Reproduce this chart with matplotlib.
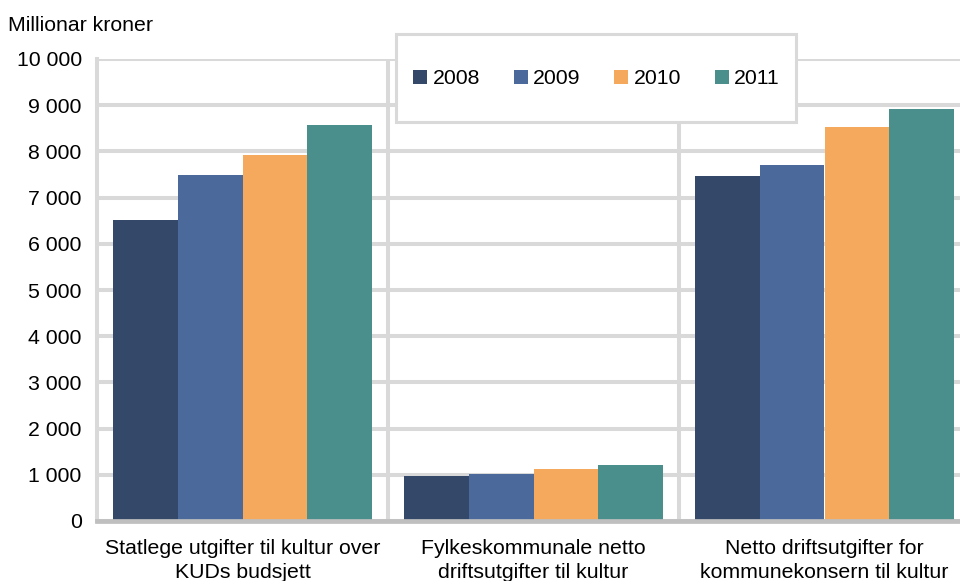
import numpy as np
import matplotlib
matplotlib.use("Agg")
import matplotlib.pyplot as plt
from matplotlib.patches import Rectangle

plt.rcParams['font.family'] = ['Liberation Sans', 'DejaVu Sans']

# data (millionar kroner)
categories = ["Statlege utgifter til kultur over\nKUDs budsjett",
              "Fylkeskommunale netto\ndriftsutgifter til kultur",
              "Netto driftsutgifter for\nkommunekonsern til kultur"]
years = ["2008", "2009", "2010", "2011"]
v2008 = [6510, 980, 7470]
v2009 = [7490, 1025, 7705]
v2010 = [7930, 1125, 8530]
v2011 = [8570, 1210, 8920]
colors = ["#344869", "#4b6a9b", "#f5a95d", "#4a8f8c"]
yticks = [0, 1000, 2000, 3000, 4000, 5000, 6000, 7000, 8000, 9000, 10000]
ytick_labels = ["0", "1 000", "2 000", "3 000", "4 000", "5 000",
                "6 000", "7 000", "8 000", "9 000", "10 000"]

fs = 15.3
grid_col = "#d9d9d9"

fig = plt.figure(figsize=(9.6, 5.81), dpi=100)
# axes runs a little past the right edge, as in the reference
ax = fig.add_axes([97/960, 1 - 521/581, 873/960, 462/581])

x = np.arange(len(categories))
w = 0.2225
series = [v2008, v2009, v2010, v2011]
for i, (vals, col, yr) in enumerate(zip(series, colors, years)):
    ax.bar(x + (i - 1.5)*w, vals, w, color=col, label=yr, zorder=2)

ax.set_xlim(-0.5, 2.5)
ax.set_ylim(0, 10000)
ax.set_yticks(yticks)
ax.set_yticklabels(ytick_labels, fontsize=fs)
ax.set_xticks(x)
ax.set_xticklabels(categories, fontsize=fs, linespacing=1.35)
ax.set_xticks([0.5, 1.5], minor=True)
ax.tick_params(axis='both', which='both', length=0)
ax.tick_params(axis='y', pad=11)
ax.tick_params(axis='x', pad=13)

ax.set_axisbelow(True)
ax.grid(axis='y', color=grid_col, linewidth=2.9)
ax.grid(axis='x', which='minor', color=grid_col, linewidth=2.9)
for s in ['top', 'right']:
    ax.spines[s].set_visible(False)
ax.spines['left'].set_color(grid_col)
ax.spines['left'].set_linewidth(2.9)
ax.spines['bottom'].set_color("#bfbfbf")
ax.spines['bottom'].set_linewidth(3.4)
ax.spines['bottom'].set_zorder(3)

fig.text(8/960, 1 - 31/581, "Millionar kroner", fontsize=fs,
         ha='left', va='baseline')

# legend box sticks out above the plot area
fig.patches.append(Rectangle((396/960, 1 - 122/581), 400/960, 88/581,
                             transform=fig.transFigure, facecolor='white',
                             edgecolor=grid_col, linewidth=2.2, zorder=1))
handles, labels = ax.get_legend_handles_labels()
fig.legend(handles, labels, loc='center', ncol=4, frameon=False,
           bbox_to_anchor=(596.5/960, 1 - 79/581), fontsize=fs,
           handlelength=0.66, handleheight=0.66, handletextpad=0.24,
           columnspacing=1.6, borderpad=0, borderaxespad=0)

fig.savefig("out.png", dpi=100)
